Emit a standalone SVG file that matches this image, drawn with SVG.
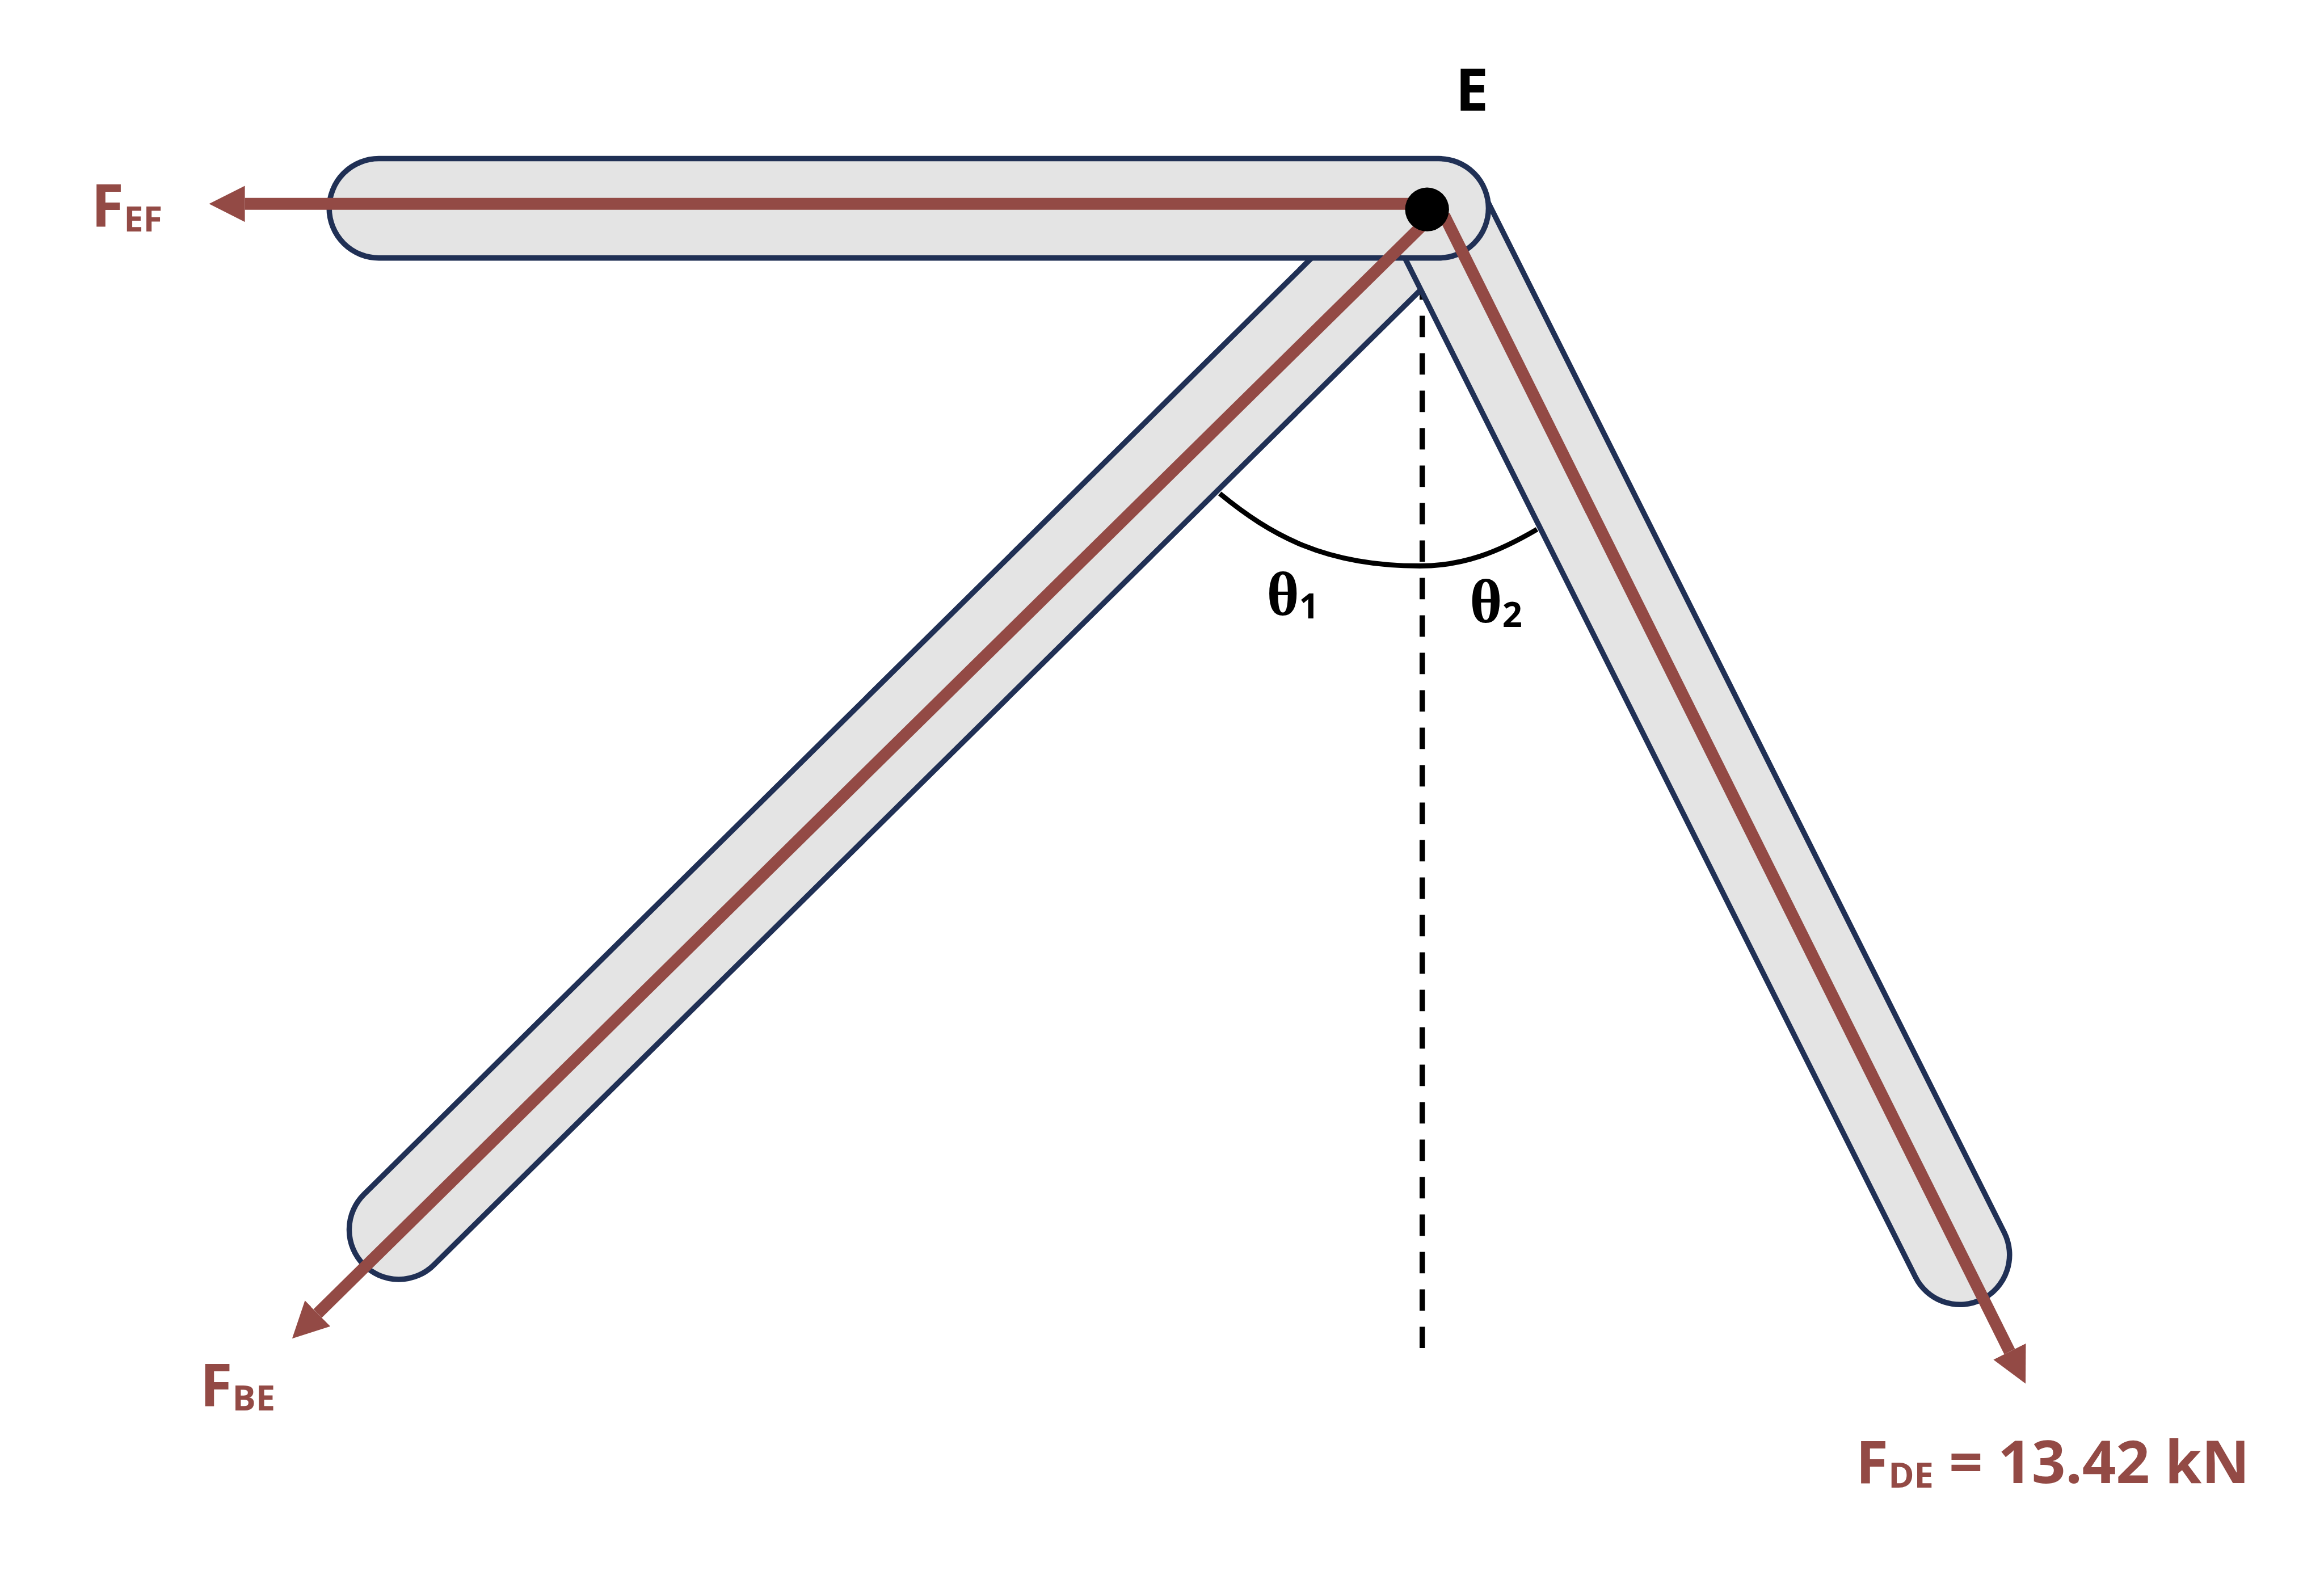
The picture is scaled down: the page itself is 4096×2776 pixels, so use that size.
<svg xmlns="http://www.w3.org/2000/svg" width="4096" height="2776" viewBox="0 0 4096 2776">
<style>
.bar{fill:#e4e4e4;stroke:#203055;stroke-width:14}
.force{fill:none;stroke:#934a45;stroke-width:31;marker-end:url(#head)}
.lbl{font-family:"Open Sans","Liberation Sans",sans-serif;font-weight:700;font-size:154px}
.f{fill:#934a45}
.k{fill:#000}
.sub{font-size:90.5px}
.th{font-family:"Liberation Serif",serif;font-weight:700;font-size:162px}
</style>
<defs>
<marker id="head" viewBox="0 0 93 94" refX="0" refY="47" markerUnits="userSpaceOnUse" markerWidth="93" markerHeight="94" orient="auto"><path d="M0 0L93 47L0 94Z" fill="#934a45"/></marker>
</defs>
<rect width="4096" height="2776" fill="#fff"/>
<g transform="scale(0.67859)">
<g id="guides">
<path d="M3694 722.7V3501.5" fill="none" stroke="#000" stroke-width="14" stroke-dasharray="55.6 41.66"/>
<path d="M3168 1282C3300 1390 3440 1470 3688 1470C3800 1470 3890 1435 3992 1375" fill="none" stroke="#000" stroke-width="13"/>
</g>
<g id="member-BE"><rect class="bar" x="-129" y="-129" width="4017" height="258" rx="129" transform="translate(1036 3194) rotate(-44.66)"/></g>
<g id="member-DE"><rect class="bar" x="-129" y="-129" width="3286" height="258" rx="129" transform="translate(3734 552) rotate(63.39)"/></g>
<g id="member-EF"><rect class="bar" x="855" y="412" width="3011" height="258" rx="129"/></g>
<g id="connectors">
<path class="force" d="M3706 529.5H636"/>
<path class="force" d="M3720 560L825 3411.5"/>
<path class="force" d="M3751 560L5219.5 3510.5"/>
</g>
<g id="joint-E"><circle cx="3706.5" cy="544" r="57" fill="#000"/></g>
<g id="labels">
<text class="lbl k" x="3780" y="288">E</text>
<text class="lbl f" x="237" y="588">F<tspan class="sub" dy="13">EF</tspan></text>
<text class="lbl f" x="519" y="3651">F<tspan class="sub" dy="13">BE</tspan></text>
<text class="lbl f" x="4820" y="3851.5">F<tspan class="sub" dy="13">DE</tspan><tspan dy="-13" letter-spacing="-0.4"> = 13.42 kN</tspan></text>
<text class="th k" x="3290" y="1597">θ</text><text class="lbl k sub" x="3374" y="1607">1</text>
<text class="th k" x="3817" y="1617">θ</text><text class="lbl k sub" x="3902" y="1628">2</text>
</g>
</g>
</svg>
